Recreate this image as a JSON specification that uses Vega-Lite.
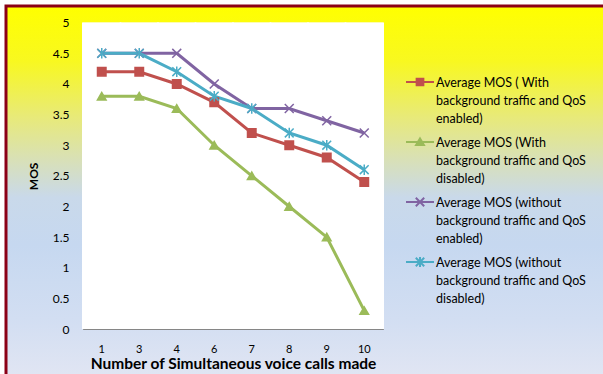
{
  "$schema": "https://vega.github.io/schema/vega-lite/v6.json",
  "width": 603,
  "height": 374,
  "autosize": {"type": "fit", "contains": "padding"},
  "padding": {"left": 6, "top": 6, "right": 0, "bottom": 0},
  "background": "white",
  "config": {
    "font": "Lato",
    "view": {
      "fill": {
        "gradient": "linear", "x1": 0, "y1": 0, "x2": 0, "y2": 1,
        "stops": [
          {"offset": 0, "color": "#ffff00"},
          {"offset": 0.15, "color": "#f8f820"},
          {"offset": 0.3, "color": "#e8ea78"},
          {"offset": 0.42, "color": "#d8e0b8"},
          {"offset": 0.52, "color": "#c9d9ea"},
          {"offset": 0.65, "color": "#c6d8f0"},
          {"offset": 0.85, "color": "#d2def2"},
          {"offset": 1, "color": "#e0e5f3"}
        ]
      },
      "stroke": "#8b0016",
      "strokeWidth": 3,
      "strokeDash": [597, 965, 370, 10]
    },
    "axis": {
      "labelFont": "Lato",
      "titleFont": "Lato",
      "labelColor": "black",
      "titleColor": "black",
      "domainColor": "#868686",
      "gridColor": "#868686",
      "ticks": false
    }
  },
  "data": {
    "values": [
      {"series": "Average MOS ( With background traffic and QoS enabled)", "calls": 1, "mos": 4.2},
      {"series": "Average MOS ( With background traffic and QoS enabled)", "calls": 3, "mos": 4.2},
      {"series": "Average MOS ( With background traffic and QoS enabled)", "calls": 4, "mos": 4.0},
      {"series": "Average MOS ( With background traffic and QoS enabled)", "calls": 6, "mos": 3.7},
      {"series": "Average MOS ( With background traffic and QoS enabled)", "calls": 7, "mos": 3.2},
      {"series": "Average MOS ( With background traffic and QoS enabled)", "calls": 8, "mos": 3.0},
      {"series": "Average MOS ( With background traffic and QoS enabled)", "calls": 9, "mos": 2.8},
      {"series": "Average MOS ( With background traffic and QoS enabled)", "calls": 10, "mos": 2.4},
      {"series": "Average MOS (With background traffic and QoS disabled)", "calls": 1, "mos": 3.8},
      {"series": "Average MOS (With background traffic and QoS disabled)", "calls": 3, "mos": 3.8},
      {"series": "Average MOS (With background traffic and QoS disabled)", "calls": 4, "mos": 3.6},
      {"series": "Average MOS (With background traffic and QoS disabled)", "calls": 6, "mos": 3.0},
      {"series": "Average MOS (With background traffic and QoS disabled)", "calls": 7, "mos": 2.5},
      {"series": "Average MOS (With background traffic and QoS disabled)", "calls": 8, "mos": 2.0},
      {"series": "Average MOS (With background traffic and QoS disabled)", "calls": 9, "mos": 1.5},
      {"series": "Average MOS (With background traffic and QoS disabled)", "calls": 10, "mos": 0.3},
      {"series": "Average MOS (without background traffic and QoS enabled)", "calls": 1, "mos": 4.5},
      {"series": "Average MOS (without background traffic and QoS enabled)", "calls": 3, "mos": 4.5},
      {"series": "Average MOS (without background traffic and QoS enabled)", "calls": 4, "mos": 4.5},
      {"series": "Average MOS (without background traffic and QoS enabled)", "calls": 6, "mos": 4.0},
      {"series": "Average MOS (without background traffic and QoS enabled)", "calls": 7, "mos": 3.6},
      {"series": "Average MOS (without background traffic and QoS enabled)", "calls": 8, "mos": 3.6},
      {"series": "Average MOS (without background traffic and QoS enabled)", "calls": 9, "mos": 3.4},
      {"series": "Average MOS (without background traffic and QoS enabled)", "calls": 10, "mos": 3.2},
      {"series": "Average MOS (without background traffic and QoS disabled)", "calls": 1, "mos": 4.5},
      {"series": "Average MOS (without background traffic and QoS disabled)", "calls": 3, "mos": 4.5},
      {"series": "Average MOS (without background traffic and QoS disabled)", "calls": 4, "mos": 4.2},
      {"series": "Average MOS (without background traffic and QoS disabled)", "calls": 6, "mos": 3.8},
      {"series": "Average MOS (without background traffic and QoS disabled)", "calls": 7, "mos": 3.6},
      {"series": "Average MOS (without background traffic and QoS disabled)", "calls": 8, "mos": 3.2},
      {"series": "Average MOS (without background traffic and QoS disabled)", "calls": 9, "mos": 3.0},
      {"series": "Average MOS (without background traffic and QoS disabled)", "calls": 10, "mos": 2.6}
    ]
  },
  "encoding": {
    "x": {
      "field": "calls",
      "type": "ordinal",
      "scale": {"range": [77, 377], "paddingInner": 0, "paddingOuter": 0},
      "axis": {
        "orient": "bottom",
        "offset": -45,
        "labelAngle": 0,
        "labelPadding": 14,
        "labelFontSize": 11,
        "title": "Number of Simultaneous voice calls made",
        "titleFontSize": 15.5,
        "titleFontWeight": "bold",
        "titleY": 34,
        "titleBaseline": "middle",
        "grid": false,
        "domain": true
      }
    },
    "color": {
      "field": "series",
      "type": "nominal",
      "scale": {
        "domain": [
          "Average MOS ( With background traffic and QoS enabled)",
          "Average MOS (With background traffic and QoS disabled)",
          "Average MOS (without background traffic and QoS enabled)",
          "Average MOS (without background traffic and QoS disabled)"
        ],
        "range": ["#C0504D", "#9BBB59", "#8064A2", "#4BACC6"]
      },
      "legend": {
        "orient": "none",
        "legendX": 399,
        "legendY": 61,
        "title": null,
        "padding": 0,
        "symbolSize": 784,
        "symbolStrokeWidth": 2,
        "labelOffset": 1,
        "labelFont": "Lato",
        "labelFontSize": 12.5,
        "labelColor": "black",
        "labelBaseline": "top",
        "labelLimit": 300,
        "rowPadding": 1,
        "labelExpr": "[['Average MOS ( With', 'background traffic and  QoS', 'enabled)'], ['Average MOS (With', 'background traffic and  QoS', 'disabled)'], ['Average MOS (without', 'background traffic and  QoS', 'enabled)'], ['Average MOS (without', 'background traffic and  QoS', 'disabled)']][datum.index]",
        "encode": {
          "symbols": {
            "update": {
              "shape": {"signal": "['M-1,0H1M-0.24,-0.24H0.24V0.24H-0.24Z', 'M-1,0H1M-0.28,0.22L0,-0.26L0.28,0.22Z', 'M-1,0H1M-0.3,-0.3L0.3,0.3M-0.3,0.3L0.3,-0.3', 'M-1,0H1M-0.3,-0.3L0.3,0.3M-0.3,0.3L0.3,-0.3M0,-0.36V0.36'][datum.index]"},
              "fill": {"scale": "color", "field": "value"},
              "stroke": {"scale": "color", "field": "value"},
              "strokeWidth": {"value": 2},
              "size": {"value": 784},
              "opacity": {"value": 1}
            }
          },
          "labels": {
            "update": {"lineHeight": {"value": 18}, "dy": {"value": -5}}
          }
        }
      }
    }
  },
  "layer": [
    {
      "mark": {"type": "rect", "width": {"band": 1.04}},
      "encoding": {
        "color": {"value": "white"},
        "y": {
          "datum": 0,
          "type": "quantitative",
          "scale": {"domain": [0, 5], "range": [323, 16.7], "nice": false, "zero": true},
          "axis": {
            "orient": "left",
            "offset": -77,
            "values": [0, 0.5, 1, 1.5, 2, 2.5, 3, 3.5, 4, 4.5, 5],
            "format": ".1~f",
            "labelPadding": 14,
            "labelFontSize": 12,
            "grid": true,
            "gridWidth": 1,
            "domain": true,
            "title": "MOS",
            "titleFontSize": 12,
            "titleFontWeight": "bold",
            "titleX": -50,
            "titleBaseline": "middle"
          }
        },
        "y2": {"datum": 5}
      }
    },
    {
      "mark": {"type": "line", "strokeWidth": 3},
      "encoding": {
        "y": {
          "field": "mos",
          "type": "quantitative",
          "axis": {"orient": "right", "offset": -220, "labels": false, "grid": false, "ticks": false, "title": null, "domain": true}
        }
      }
    },
    {
      "mark": {"type": "point", "filled": true, "opacity": 1, "strokeWidth": 1.5},
      "encoding": {
        "y": {"field": "mos", "type": "quantitative", "axis": null},
        "shape": {
          "field": "series",
          "type": "nominal",
          "scale": {"range": ["square", "triangle-up", "M-1,-1L1,1M-1,1L1,-1M0,-1.2V1.2", "M-1,-1L1,1M-1,1L1,-1"]},
          "legend": null
        },
        "stroke": {
          "field": "series",
          "type": "nominal",
          "scale": {"range": ["#C0504D", "#9BBB59", "#4BACC6", "#8064A2"]},
          "legend": null
        },
        "size": {
          "field": "series",
          "type": "nominal",
          "scale": {"range": [72, 80, 110, 110]},
          "legend": null
        }
      }
    }
  ],
  "resolve": {"axis": {"y": "independent"}}
}
